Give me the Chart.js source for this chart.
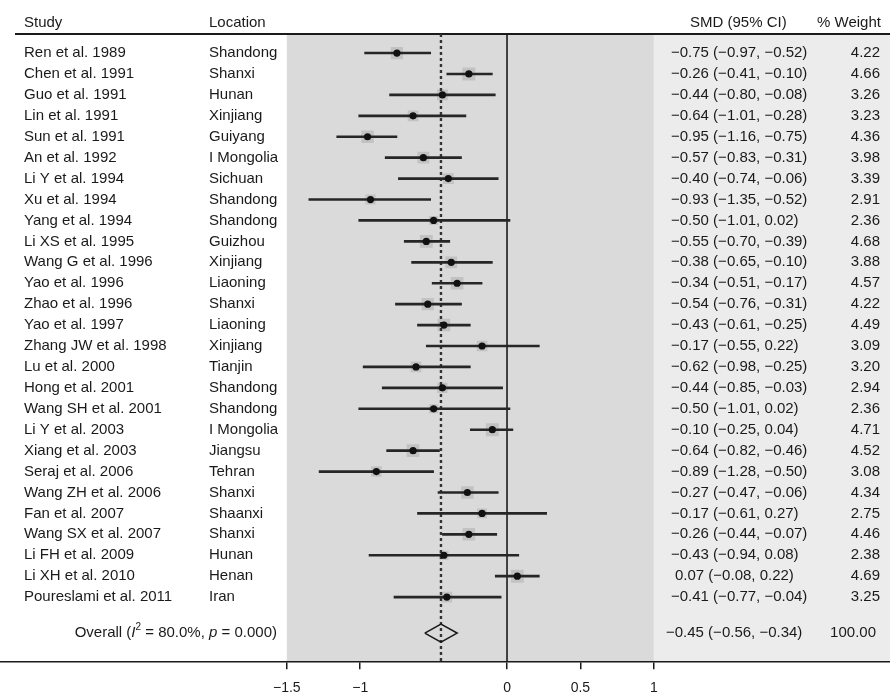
<!DOCTYPE html>
<html>
<head>
<meta charset="utf-8">
<script src="https://cdn.jsdelivr.net/npm/chart.js@4.4.1/dist/chart.umd.min.js"></script>
<style>
  html, body { margin: 0; padding: 0; background: #fff; }
  canvas { display: block; }
</style>
</head>
<body>
<canvas id="forest" width="890" height="696"></canvas>
<script>
// study rows, top to bottom
const STUDIES = [
  'Ren et al. 1989', 'Chen et al. 1991', 'Guo et al. 1991', 'Lin et al. 1991',
  'Sun et al. 1991', 'An et al. 1992', 'Li Y et al. 1994', 'Xu et al. 1994',
  'Yang et al. 1994', 'Li XS et al. 1995', 'Wang G et al. 1996', 'Yao et al. 1996',
  'Zhao et al. 1996', 'Yao et al. 1997', 'Zhang JW et al. 1998', 'Lu et al. 2000',
  'Hong et al. 2001', 'Wang SH et al. 2001', 'Li Y et al. 2003', 'Xiang et al. 2003',
  'Seraj et al. 2006', 'Wang ZH et al. 2006', 'Fan et al. 2007', 'Wang SX et al. 2007',
  'Li FH et al. 2009', 'Li XH et al. 2010', 'Poureslami et al. 2011'
];
const LOCATIONS = [
  'Shandong', 'Shanxi', 'Hunan', 'Xinjiang', 'Guiyang', 'I Mongolia', 'Sichuan',
  'Shandong', 'Shandong', 'Guizhou', 'Xinjiang', 'Liaoning', 'Shanxi', 'Liaoning',
  'Xinjiang', 'Tianjin', 'Shandong', 'Shandong', 'I Mongolia', 'Jiangsu', 'Tehran',
  'Shanxi', 'Shaanxi', 'Shanxi', 'Hunan', 'Henan', 'Iran'
];
const SMD = [
  -0.75, -0.26, -0.44, -0.64, -0.95, -0.57, -0.40, -0.93, -0.50, -0.55, -0.38, -0.34,
  -0.54, -0.43, -0.17, -0.62, -0.44, -0.50, -0.10, -0.64, -0.89, -0.27, -0.17, -0.26,
  -0.43, 0.07, -0.41
];
const CI_LOW = [
  -0.97, -0.41, -0.80, -1.01, -1.16, -0.83, -0.74, -1.35, -1.01, -0.70, -0.65, -0.51,
  -0.76, -0.61, -0.55, -0.98, -0.85, -1.01, -0.25, -0.82, -1.28, -0.47, -0.61, -0.44,
  -0.94, -0.08, -0.77
];
const CI_HIGH = [
  -0.52, -0.10, -0.08, -0.28, -0.75, -0.31, -0.06, -0.52, 0.02, -0.39, -0.10, -0.17,
  -0.31, -0.25, 0.22, -0.25, -0.03, 0.02, 0.04, -0.46, -0.50, -0.06, 0.27, -0.07,
  0.08, 0.22, -0.04
];
const WEIGHTS = [
  4.22, 4.66, 3.26, 3.23, 4.36, 3.98, 3.39, 2.91, 2.36, 4.68, 3.88, 4.57, 4.22, 4.49,
  3.09, 3.20, 2.94, 2.36, 4.71, 4.52, 3.08, 4.34, 2.75, 4.46, 2.38, 4.69, 3.25
];
const OVERALL_SMD = -0.45;
const OVERALL_LOW = -0.56;
const OVERALL_HIGH = -0.34;
const OVERALL_WEIGHT = 100.00;
const X_TICKS = [-1.5, -1, 0, 0.5, 1];

const FONT = '"Liberation Sans", Arial, sans-serif';
const INK = '#1a1a1a';

// row layout on the y scale (1 = first study)
const OVERALL_ROW = 28.72;
const Y_MIN = 0.09;
const Y_MAX = 30.11;
const X_MIN = -3.454;
const X_MAX = 2.609;

const minus = v => (v < 0 ? '\u2212' : '') + Math.abs(v).toFixed(2);
const ciText = (e, lo, hi) => `${minus(e)} (${minus(lo)}, ${minus(hi)})`;
const rows = STUDIES.map((_, i) => i + 1);

const backdrop = {
  id: 'backdrop',
  beforeDraw(chart) {
    const { ctx, chartArea, scales } = chart;
    const left = scales.x.getPixelForValue(X_TICKS[0]);
    const right = scales.x.getPixelForValue(X_TICKS[X_TICKS.length - 1]);
    ctx.save();
    ctx.fillStyle = '#ececec';
    ctx.fillRect(right, chartArea.top, chart.width - right, chartArea.bottom - chartArea.top);
    ctx.fillStyle = '#dadada';
    ctx.fillRect(left, chartArea.top, right - left, chartArea.bottom - chartArea.top);
    // header rule
    ctx.strokeStyle = INK;
    ctx.lineWidth = 2;
    ctx.beginPath();
    ctx.moveTo(15, chartArea.top);
    ctx.lineTo(chart.width, chartArea.top);
    ctx.stroke();
    ctx.restore();
  }
};

const tableText = {
  id: 'tableText',
  afterDraw(chart) {
    const { ctx, chartArea, scales } = chart;
    const ys = scales.y;
    ctx.save();
    ctx.fillStyle = INK;
    ctx.textBaseline = 'middle';
    ctx.font = `15px ${FONT}`;

    const hy = chartArea.top - 11;
    ctx.textAlign = 'left';
    ctx.fillText('Study', 24, hy);
    ctx.fillText('Location', 209, hy);
    ctx.fillText('SMD (95% CI)', 690, hy);
    ctx.fillText('% Weight', 817, hy);

    STUDIES.forEach((name, i) => {
      const y = ys.getPixelForValue(rows[i]);
      ctx.textAlign = 'left';
      ctx.fillText(name, 24, y);
      ctx.fillText(LOCATIONS[i], 209, y);
      ctx.fillText(ciText(SMD[i], CI_LOW[i], CI_HIGH[i]), SMD[i] < 0 ? 671 : 675, y);
      ctx.textAlign = 'right';
      ctx.fillText(WEIGHTS[i].toFixed(2), 880, y);
    });

    // overall row, with italic I and p
    const oy = ys.getPixelForValue(OVERALL_ROW);
    const parts = [
      ['Overall (', `15px ${FONT}`, 0],
      ['I', `italic 15px ${FONT}`, 0],
      ['2', `10px ${FONT}`, -6],
      [' = 80.0%, ', `15px ${FONT}`, 0],
      ['p', `italic 15px ${FONT}`, 0],
      [' = 0.000)', `15px ${FONT}`, 0]
    ];
    let total = 0;
    parts.forEach(([t, f]) => { ctx.font = f; total += ctx.measureText(t).width; });
    let x = 277 - total;
    ctx.textAlign = 'left';
    parts.forEach(([t, f, dy]) => {
      ctx.font = f;
      ctx.fillText(t, x, oy + dy);
      x += ctx.measureText(t).width;
    });
    ctx.font = `15px ${FONT}`;
    ctx.fillText(ciText(OVERALL_SMD, OVERALL_LOW, OVERALL_HIGH), 666, oy);
    ctx.textAlign = 'right';
    ctx.fillText(OVERALL_WEIGHT.toFixed(2), 876, oy);
    ctx.restore();
  }
};

const diamondH = 0.43;

new Chart(document.getElementById('forest'), {
  type: 'scatter',
  data: {
    datasets: [
      { // point estimates
        data: rows.map((r, i) => ({ x: SMD[i], y: r })),
        pointRadius: 3.6,
        pointBackgroundColor: '#111',
        pointBorderWidth: 0
      },
      { // confidence intervals
        type: 'bar',
        indexAxis: 'y',
        data: rows.map((r, i) => ({ y: r, x: [CI_LOW[i], CI_HIGH[i]] })),
        backgroundColor: '#262626',
        barThickness: 2,
        borderWidth: 0,
        borderSkipped: false
      },
      { // overall diamond
        data: [
          { x: OVERALL_LOW, y: OVERALL_ROW },
          { x: OVERALL_SMD, y: OVERALL_ROW - diamondH },
          { x: OVERALL_HIGH, y: OVERALL_ROW },
          { x: OVERALL_SMD, y: OVERALL_ROW + diamondH },
          { x: OVERALL_LOW, y: OVERALL_ROW }
        ],
        showLine: true,
        borderColor: INK,
        borderWidth: 1.6,
        pointRadius: 0,
        fill: false
      },
      { // line of no effect
        data: [{ x: 0, y: Y_MIN }, { x: 0, y: Y_MAX }],
        showLine: true,
        borderColor: INK,
        borderWidth: 1.6,
        pointRadius: 0
      },
      { // overall estimate
        data: [{ x: OVERALL_SMD, y: Y_MIN }, { x: OVERALL_SMD, y: Y_MAX }],
        showLine: true,
        borderColor: '#333',
        borderWidth: 2.4,
        borderDash: [3, 3],
        pointRadius: 0
      },
      { // weight boxes
        data: rows.map((r, i) => ({ x: SMD[i], y: r })),
        pointStyle: 'rect',
        pointRadius: WEIGHTS.map(w => 4.2 * Math.sqrt(w)),
        pointBackgroundColor: 'rgba(110,110,110,0.22)',
        pointBorderWidth: 0
      }
    ]
  },
  options: {
    responsive: false,
    animation: false,
    layout: { autoPadding: false, padding: { top: 34, left: 0, right: 0, bottom: -12 } },
    plugins: { legend: { display: false }, tooltip: { enabled: false } },
    scales: {
      x: {
        type: 'linear',
        min: X_MIN,
        max: X_MAX,
        offset: false,
        afterBuildTicks: s => { s.ticks = X_TICKS.map(v => ({ value: v })); },
        ticks: {
          autoSkip: false,
          maxRotation: 0,
          padding: 11,
          color: INK,
          font: { family: FONT, size: 14 },
          callback: v => (v < 0 ? '\u2212' : '') + Math.abs(v)
        },
        grid: { drawOnChartArea: false, drawTicks: true, tickLength: 7, color: INK, lineWidth: 1.5, offset: false },
        border: { display: true, color: INK, width: 1.5 }
      },
      y: {
        type: 'linear',
        reverse: true,
        min: Y_MIN,
        max: Y_MAX,
        offset: false,
        grid: { offset: false },
        display: false
      }
    }
  },
  plugins: [backdrop, tableText]
});
</script>
</body>
</html>
